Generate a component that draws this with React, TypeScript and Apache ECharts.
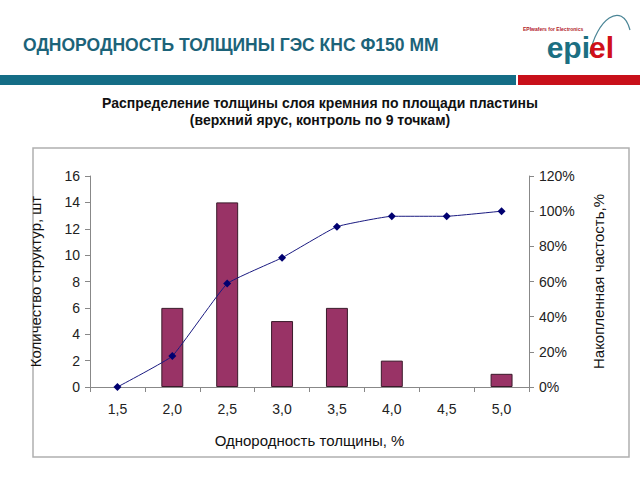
import React, { useEffect, useRef } from "react";
import * as echarts from "echarts";

const categories = ["1,5", "2,0", "2,5", "3,0", "3,5", "4,0", "4,5", "5,0"];
const counts = [0, 6, 14, 5, 6, 2, 0, 1];
const cumulative = [0, 0.176, 0.588, 0.735, 0.912, 0.971, 0.971, 1.0];
const leftTicks = { min: 0, max: 16, interval: 2 };
const rightTicks = { min: 0, max: 1.2, interval: 0.2 };

const FONT = "'Liberation Sans', Arial, sans-serif";

export default function App() {
  const ref = useRef<HTMLDivElement>(null);
  useEffect(() => {
    if (!ref.current) return;
    const chart = echarts.init(ref.current, undefined, { renderer: "svg" });
    const axisLabel = { color: "#222", fontSize: 14, fontFamily: FONT };
    const nameStyle = { color: "#111", fontSize: 15, fontFamily: FONT };
    chart.setOption({
      animation: false,
      backgroundColor: "#fff",
      textStyle: { fontFamily: FONT },
      grid: { left: 90, right: 111, top: 176, bottom: 93 },
      graphic: [
        {
          type: "text",
          left: 23,
          top: 36,
          style: {
            text: "ОДНОРОДНОСТЬ ТОЛЩИНЫ ГЭС КНС Ф150 ММ",
            fill: "#1c6379",
            font: `bold 17.5px ${FONT}`,
          },
        },
        { type: "rect", shape: { x: 0, y: 75, width: 516, height: 10 }, style: { fill: "#146d86" } },
        { type: "rect", shape: { x: 518, y: 75, width: 122, height: 10 }, style: { fill: "#c8101a" } },
        {
          type: "bezierCurve",
          shape: { x1: 590, y1: 54, cpx1: 596, cpy1: 20, cpx2: 622, cpy2: 0, x2: 630, y2: 30 },
          style: { stroke: "#4a8596", lineWidth: 1.2, fill: "none" },
        },
        {
          type: "text",
          x: 590,
          y: 47,
          style: {
            text: "epi",
            align: "right",
            verticalAlign: "middle",
            fill: "#1b6f82",
            font: `bold 30px ${FONT}`,
          },
        },
        {
          type: "text",
          x: 589,
          y: 47,
          style: {
            text: "el",
            align: "left",
            verticalAlign: "middle",
            fill: "#d0101a",
            font: `bold 30px ${FONT}`,
          },
        },
        {
          type: "text",
          x: 523,
          y: 29,
          style: {
            text: "EPIwafers for Electronics",
            verticalAlign: "middle",
            fill: "#b0202a",
            font: `bold 5px ${FONT}`,
          },
        },
        {
          type: "text",
          x: 320,
          y: 111,
          style: {
            text: "Распределение толщины слоя кремния по площади пластины\n(верхний ярус, контроль по 9 точкам)",
            align: "center",
            verticalAlign: "middle",
            lineHeight: 17,
            fill: "#111",
            font: `bold 14px ${FONT}`,
          },
        },
        {
          type: "rect",
          shape: { x: 33, y: 148, width: 596, height: 309 },
          style: { fill: "none", stroke: "#b0b0b0", lineWidth: 1.5 },
          z: -1,
        },
      ],
      xAxis: {
        type: "category",
        data: categories,
        boundaryGap: true,
        axisLine: { lineStyle: { color: "#888" } },
        axisTick: { show: true, length: 5, lineStyle: { color: "#888" } },
        axisLabel: { ...axisLabel, margin: 15 },
        name: "Однородность толщины, %",
        nameLocation: "middle",
        nameGap: 46,
        nameTextStyle: nameStyle,
      },
      yAxis: [
        {
          type: "value",
          ...leftTicks,
          splitLine: { show: false },
          axisLine: { show: true, lineStyle: { color: "#888" } },
          axisTick: { show: true, length: 5, lineStyle: { color: "#888" } },
          axisLabel: { ...axisLabel, margin: 10 },
          name: "Количество структур, шт",
          nameLocation: "middle",
          nameRotate: 90,
          nameGap: 47,
          nameTextStyle: nameStyle,
        },
        {
          type: "value",
          position: "right",
          ...rightTicks,
          splitLine: { show: false },
          axisLine: { show: true, lineStyle: { color: "#888" } },
          axisTick: { show: true, length: 5, lineStyle: { color: "#888" } },
          axisLabel: {
            ...axisLabel,
            margin: 10,
            formatter: (v: number) => `${Math.round(v * 100)}%`,
          },
          name: "Накопленная частость,%",
          nameLocation: "middle",
          nameRotate: 90,
          nameGap: 62,
          nameTextStyle: nameStyle,
        },
      ],
      series: [
        {
          type: "bar",
          data: counts.map((v) => (v === 0 ? null : v)),
          yAxisIndex: 0,
          barWidth: "40%",
          itemStyle: { color: "#993366", borderColor: "#3a1a2a", borderWidth: 1 },
        },
        {
          type: "line",
          data: cumulative,
          yAxisIndex: 1,
          smooth: 0.1,
          symbol: "diamond",
          symbolSize: 8,
          lineStyle: { color: "#1a1a80", width: 1 },
          itemStyle: { color: "#000070" },
        },
      ],
    });
    return () => chart.dispose();
  }, []);
  return (
    <div
      ref={ref}
      style={{ position: "fixed", left: 0, top: 0, width: 640, height: 480 }}
    />
  );
}
